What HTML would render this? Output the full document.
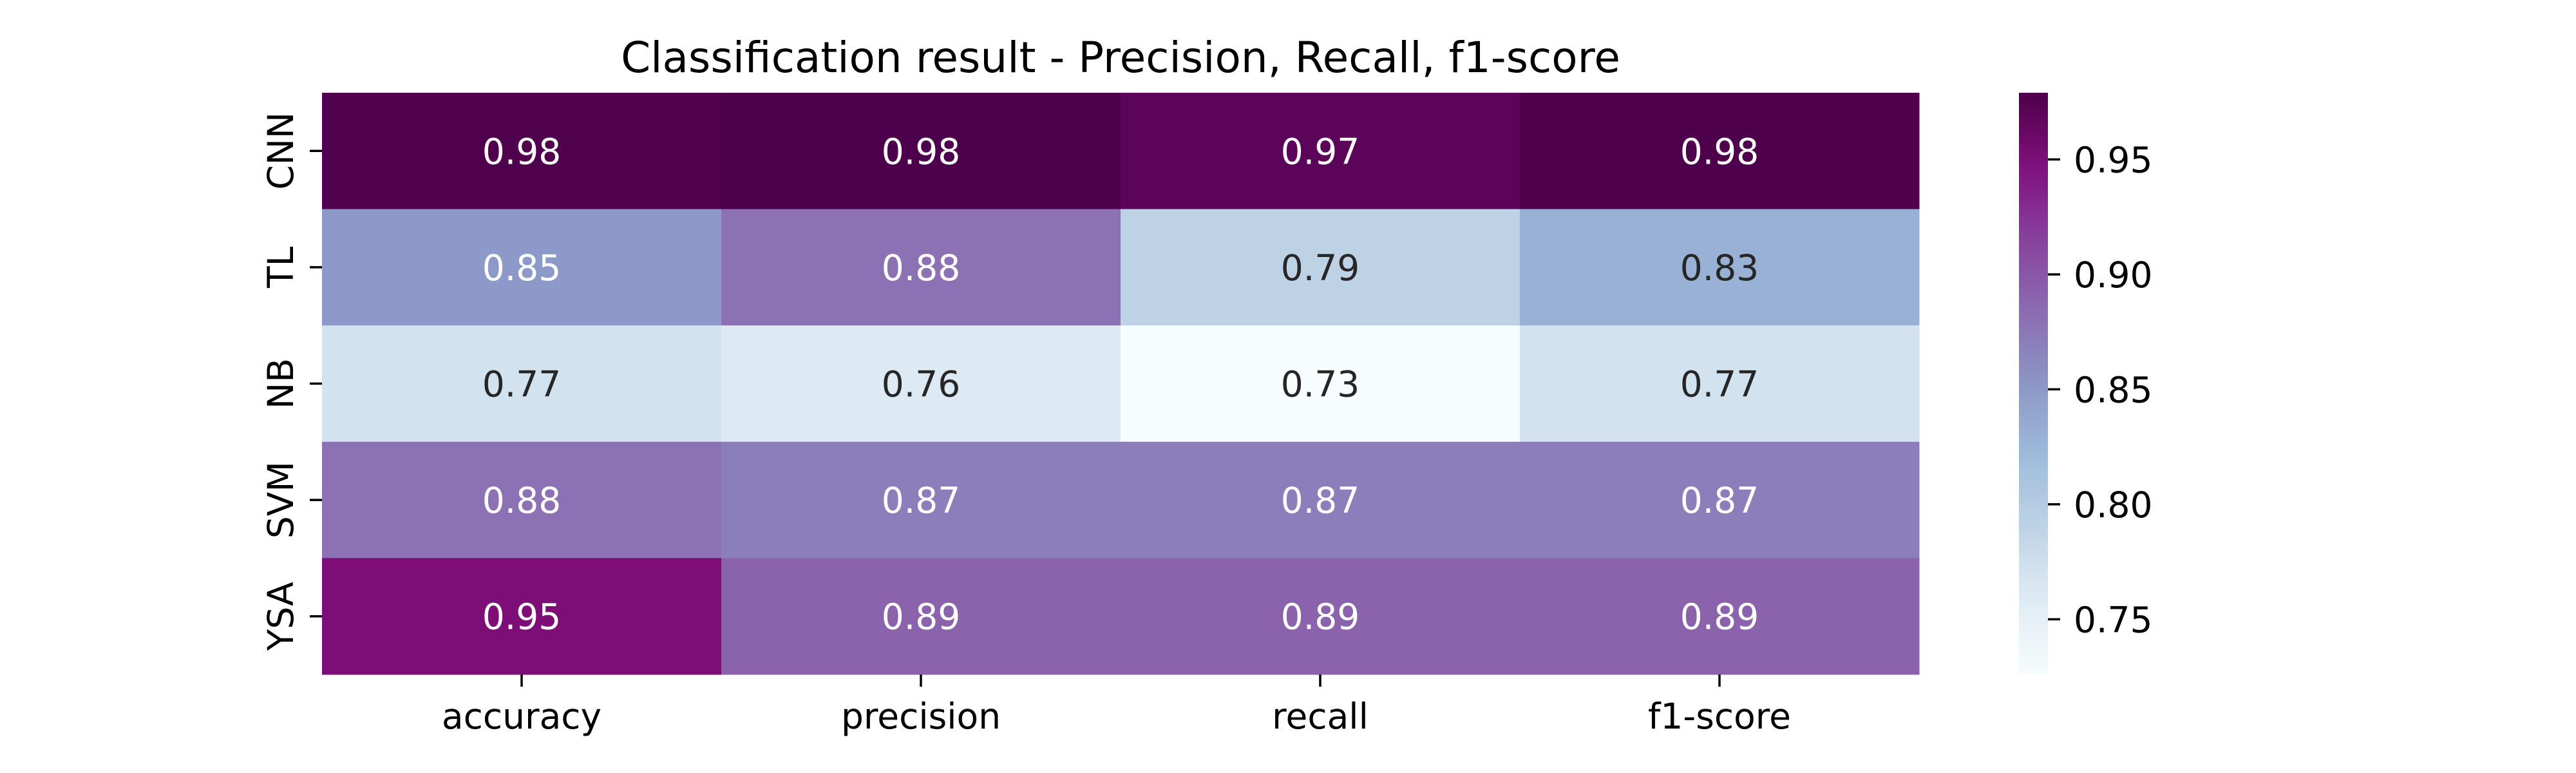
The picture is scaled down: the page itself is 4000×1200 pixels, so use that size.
<!DOCTYPE html>
<html><head><meta charset="utf-8"><style>
html,body{margin:0;padding:0;background:#fff;}
svg{display:block;font-family:"DejaVu Sans","Liberation Sans",sans-serif;}
</style></head>
<body>
<svg id="chart" width="4000" height="1200" viewBox="0 0 4000 1200" xmlns="http://www.w3.org/2000/svg">
<rect width="4000" height="1200" fill="#fff"/>
<text x="1740" y="112" font-size="66" text-anchor="middle" fill="#000">Classification result - Precision, Recall, f1-score</text>
<g id="cells"></g>
<g id="yaxis"></g>
<g id="xaxis"></g>
<defs><linearGradient id="cbgrad" x1="0" y1="1" x2="0" y2="0"></linearGradient></defs>
<rect x="3135" y="144" width="45" height="903" fill="url(#cbgrad)"/>
<g id="cbaxis"></g>
</svg>
<script>
const rows = ["CNN","TL","NB","SVM","YSA"];
const cols = ["accuracy","precision","recall","f1-score"];
const valCNN = [0.977,0.979,0.970,0.978];
const valTL  = [0.85,0.88,0.79,0.83];
const valNB  = [0.77,0.76,0.726,0.77];
const valSVM = [0.88,0.87,0.87,0.87];
const valYSA = [0.95,0.89,0.89,0.89];
const cbTicks = [0.75,0.80,0.85,0.90,0.95];

const values = [valCNN,valTL,valNB,valSVM,valYSA];
const NS="http://www.w3.org/2000/svg";
const L=500,R=2980,T=144,B=1047;
const FS=55;
const cw=(R-L)/cols.length, ch=(B-T)/rows.length;
const all=values.flat();
const vmin=Math.min(...all), vmax=Math.max(...all);
const stops=["#f7fcfd","#e0ecf4","#bfd3e6","#9ebcda","#8c96c6","#8c6bb1","#88419d","#810f7c","#4d004b"].map(h=>[1,3,5].map(i=>parseInt(h.substr(i,2),16)));
function cmap(t){t=Math.max(0,Math.min(1,t));const p=t*(stops.length-1);const i=Math.min(Math.floor(p),stops.length-2);const f=p-i;return stops[i].map((c,k)=>Math.round(c+(stops[i+1][k]-c)*f));}
function lum(c){const l=c.map(v=>{v/=255;return v<=0.03928?v/12.92:Math.pow((v+0.055)/1.055,2.4);});return 0.2126*l[0]+0.7152*l[1]+0.0722*l[2];}
const xs=i=>L+i*cw, ys=j=>T+j*ch;
const vy=v=>B-(v-vmin)/(vmax-vmin)*(B-T);
function el(tag,attrs,parent,txt){const e=document.createElementNS(NS,tag);for(const k in attrs)e.setAttribute(k,attrs[k]);if(txt!==undefined)e.textContent=txt;parent.appendChild(e);return e;}
const gc=document.getElementById('cells');
values.forEach((row,j)=>row.forEach((v,i)=>{
  const c=cmap((v-vmin)/(vmax-vmin));
  const r=el('rect',{x:xs(i),y:ys(j),width:cw+0.5,height:ch+0.5,fill:`rgb(${c})`},gc);
  
  
  const t=el('text',{x:xs(i)+cw/2,y:ys(j)+ch/2+20,'font-size':FS,'text-anchor':'middle',fill:lum(c)>0.408?'#262626':'#fff'},gc,(Math.round(v*100)/100).toFixed(2));
  
  
}));
const gy=document.getElementById('yaxis');
rows.forEach((n,j)=>{
  const y=ys(j)+ch/2;
  el('line',{x1:L-19,x2:L,y1:y,y2:y,stroke:'#000','stroke-width':3.5},gy);
  const t=el('text',{x:0,y:0,'font-size':FS,'text-anchor':'middle',transform:`translate(455,${y}) rotate(-90)`,fill:'#000'},gy,n);
  
  
});
const gx=document.getElementById('xaxis');
cols.forEach((n,i)=>{
  const x=xs(i)+cw/2;
  el('line',{x1:x,x2:x,y1:B,y2:B+19,stroke:'#000','stroke-width':3.5},gx);
  const t=el('text',{x:x,y:B+84,'font-size':FS,'text-anchor':'middle',fill:'#000'},gx,n);
  
  
});
const grad=document.getElementById('cbgrad');
for(let k=0;k<=20;k++){const c=cmap(k/20);el('stop',{offset:k/20,'stop-color':`rgb(${c})`},grad);}
const gcb=document.getElementById('cbaxis');
cbTicks.forEach(v=>{
  const y=vy(v);
  el('line',{x1:3180,x2:3199,y1:y,y2:y,stroke:'#000','stroke-width':3.5},gcb);
  const t=el('text',{x:3220,y:y+20,'font-size':FS,fill:'#000'},gcb,v.toFixed(2));
  
  
});
</script>
</body></html>
